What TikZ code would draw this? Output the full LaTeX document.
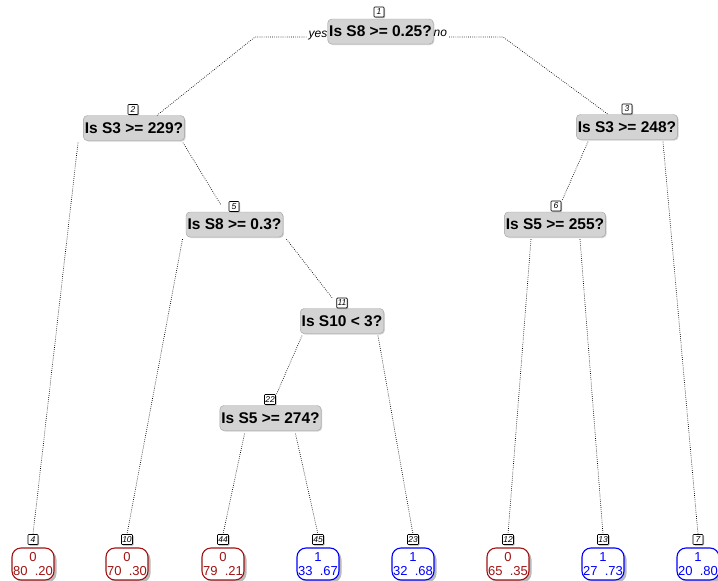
\documentclass[tikz,border=0pt]{standalone}
\usepackage{fontspec}
\setmainfont{Liberation Sans}
\usetikzlibrary{shadows}
\definecolor{leafred}{RGB}{160,20,20}
\definecolor{leafblue}{RGB}{0,0,255}
\definecolor{splitfill}{RGB}{211,211,211}
\definecolor{splitdraw}{RGB}{160,160,160}
\tikzset{
  splitbox/.style={draw=splitdraw, fill=splitfill, rounded corners=4pt, inner xsep=1.5pt, inner ysep=0pt,
    minimum height=25pt, font=\fontsize{15.5}{18}\selectfont\bfseries,
    drop shadow={shadow xshift=1pt, shadow yshift=-1pt, fill=gray!35, opacity=1}},
  numbox/.style={draw=black, fill=white, inner sep=0.8pt, minimum width=10pt, minimum height=10pt,
    font=\fontsize{8.5}{9}\selectfont\itshape, line width=0.6pt, rounded corners=0.8pt,
    drop shadow={shadow xshift=1pt, shadow yshift=-1pt, fill=gray!60, opacity=1}},
  leafbox/.style={rounded corners=9pt, line width=1.1pt, minimum width=42pt, minimum height=32pt,
    inner sep=0pt, align=center, font=\fontsize{13}{14}\selectfont, fill=white,
    drop shadow={shadow xshift=2.5pt, shadow yshift=-2.5pt, fill=gray!55, opacity=1}},
  redleaf/.style={leafbox, draw=leafred, text=leafred},
  blueleaf/.style={leafbox, draw=leafblue, text=leafblue},
  branch/.style={line width=0.7pt, dash pattern=on 0.7pt off 1.4pt},
  yesno/.style={font=\fontsize{12}{12}\selectfont\itshape, inner sep=0pt}
}
\begin{document}
\begin{tikzpicture}[x=1pt,y=-1pt]
\useasboundingbox (0,0) rectangle (718,581);
% split nodes
\node[splitbox] (n1) at (380.5,31.5) {Is S8 >= 0.25?};
\node[splitbox] (n2) at (134,128) {Is S3 >= 229?};
\node[splitbox] (n3) at (627,127) {Is S3 >= 248?};
\node[splitbox] (n5) at (234.5,224.5) {Is S8 >= 0.3?};
\node[splitbox] (n6) at (555,224.5) {Is S5 >= 255?};
\node[splitbox] (n11) at (342,321) {Is S10 < 3?};
\node[splitbox] (n22) at (270.5,418) {Is S5 >= 274?};
% number labels of splits
\node[numbox] (t1) at (379,12) {1};
\node[numbox] (t2) at (133,109.5) {2};
\node[numbox] (t3) at (627,109) {3};
\node[numbox] (t5) at (234,206.5) {5};
\node[numbox] (t6) at (556,206) {6};
\node[numbox] (t11) at (342,303) {11};
\node[numbox] (t22) at (270,399.5) {22};
% yes / no
\node[yesno, anchor=east] (yes) at (n1.west) [yshift=-4pt] {yes};
\node[yesno, anchor=west] (no) at (n1.east) [yshift=-2pt] {no};
\coordinate (yk) at (255,37);
\coordinate (nk) at (503,37);
% leaves
\foreach \n/\x/\cls/\a/\b in {4/33/redleaf/0/80\ \ .20, 10/127/redleaf/0/70\ \ .30, 44/223/redleaf/0/79\ \ .21,
  45/318/blueleaf/1/33\ \ .67, 23/413/blueleaf/1/32\ \ .68, 12/508/redleaf/0/65\ \ .35,
  13/603/blueleaf/1/27\ \ .73, 7/698/blueleaf/1/20\ \ .80}{
  \node[numbox] (t\n) at (\x,539.5) {\n};
  \node[\cls] (l\n) at (\x,564) {\a\\\b};
}
% branches
\draw[branch] ([xshift=-2pt]yes.west |- yk) -- (yk) -- ([xshift=23pt]n2.north);
\draw[branch] ([xshift=2pt]no.east |- nk) -- (nk) -- ([xshift=-19pt]n3.north);
\draw[branch] ([xshift=-56pt,yshift=-2pt]n2.south) -- (t4.north);
\draw[branch] ([xshift=49pt,yshift=-2pt]n2.south) -- ([xshift=-8pt,yshift=2pt]t5.west);
\draw[branch] ([xshift=-52pt,yshift=-2pt]n5.south) -- (t10.north);
\draw[branch] ([xshift=52pt,yshift=-2pt]n5.south) -- ([xshift=-10pt]t11.north);
\draw[branch] ([xshift=-40pt,yshift=-2pt]n11.south) -- ([xshift=6pt,yshift=-1pt]t22.north);
\draw[branch] ([xshift=36pt,yshift=-2pt]n11.south) -- (t23.north);
\draw[branch] ([xshift=-26pt,yshift=-3pt]n22.south) -- (t44.north);
\draw[branch] ([xshift=25pt,yshift=-3pt]n22.south) -- (t45.north);
\draw[branch] ([xshift=-39pt,yshift=-2pt]n3.south) -- ([xshift=6pt]t6.north);
\draw[branch] ([xshift=36pt,yshift=-2pt]n3.south) -- (t7.north);
\draw[branch] ([xshift=-24pt,yshift=-2pt]n6.south) -- (t12.north);
\draw[branch] ([xshift=25pt,yshift=-2pt]n6.south) -- (t13.north);
\end{tikzpicture}
\end{document}
